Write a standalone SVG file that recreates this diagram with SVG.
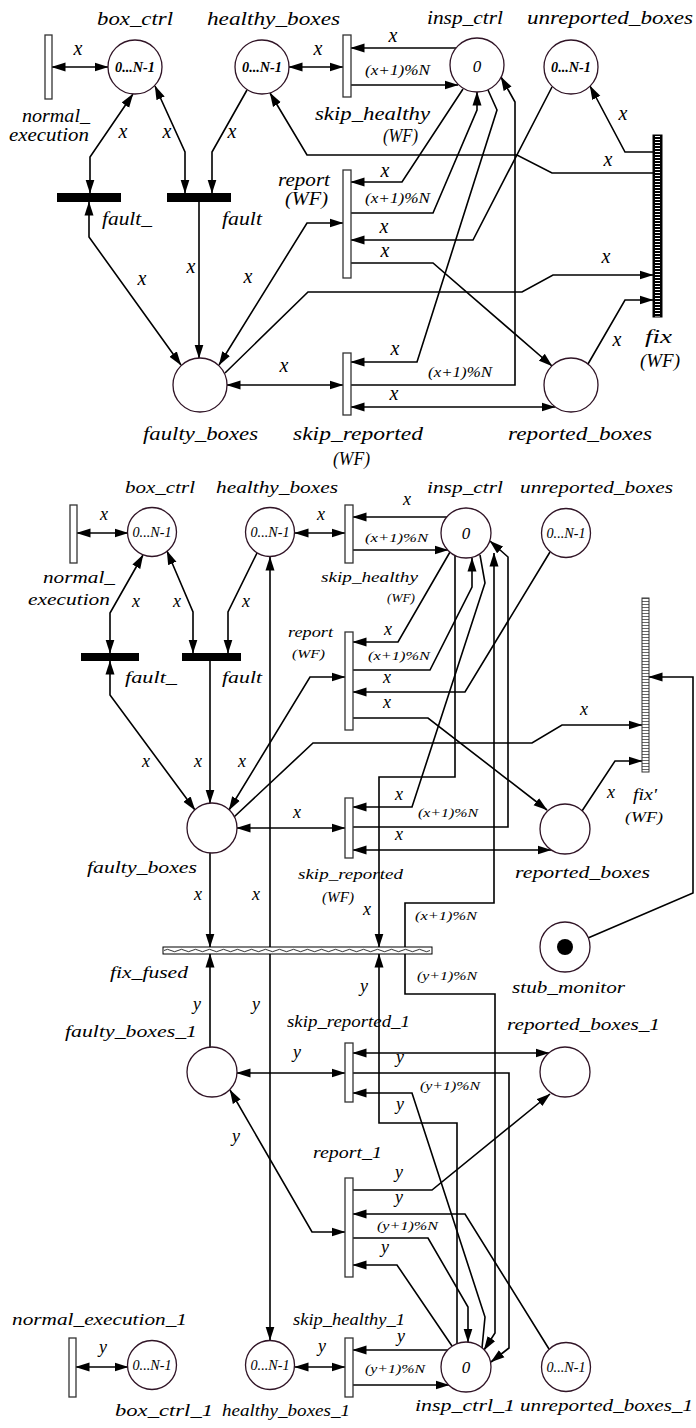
<svg xmlns="http://www.w3.org/2000/svg" width="696" height="1428" viewBox="0 0 696 1428">
<defs>
<marker id="ah" viewBox="0 0 14 10" refX="13.5" refY="5" markerWidth="14" markerHeight="10" markerUnits="userSpaceOnUse" orient="auto-start-reverse"><path d="M0,0.5 L14,5 L0,9.5 Z" fill="#000"/></marker>
<pattern id="hatchA" patternUnits="userSpaceOnUse" x="653" y="135" width="9" height="3"><rect width="9" height="3" fill="#000"/><path d="M2,1.5 h5" stroke="#fff" stroke-width="1"/></pattern>
<pattern id="hatchB" patternUnits="userSpaceOnUse" x="642" y="598" width="7" height="3"><rect width="7" height="3" fill="#fff"/><path d="M0,0.5 h7" stroke="#555" stroke-width="0.9"/></pattern>
<style>
.arc{fill:none;stroke:#000;stroke-width:1.6}
.e{marker-end:url(#ah)}
.b{marker-start:url(#ah);marker-end:url(#ah)}
.pl{fill:#fff;stroke:#301426;stroke-width:1.3}
.tr{fill:#fff;stroke:#333;stroke-width:1.3}
.bar{fill:#000}
.t{font-family:"Liberation Serif",serif;font-style:italic;fill:#000}
.L{font-size:18px}
.M{font-size:17px}
.S{font-size:15px}
.XS{font-size:13px}
.ax{font-size:20px;text-anchor:middle}
.ay{font-size:18px;text-anchor:middle}
.tk{font-size:14px;text-anchor:middle}
.tkb{font-size:14px;text-anchor:middle;font-weight:bold}
.z{font-size:17px;text-anchor:middle}
</style>
</defs>

<g id="connectors">
<!-- top diagram -->
<path class="arc b" d="M52,67 L108,67"/>
<path class="arc b" d="M289,67 L343,67"/>
<path class="arc e" d="M456,48 L351,48"/>
<path class="arc e" d="M351,85 L458,85"/>
<path class="arc b" d="M90,193 L90,157 L133,94"/>
<path class="arc b" d="M155,86 L185,152 L185,193"/>
<path class="arc e" d="M247,90 L212,152 L212,193"/>
<path class="arc b" d="M89,202 L89,237 L181,365"/>
<path class="arc e" d="M199,202 L199,358"/>
<path class="arc b" d="M219,365 L307,223 L343,223"/>
<path class="arc e" d="M225,373 L308,292 L522,292 L553,275 L653,275"/>
<path class="arc e" d="M653,152 L625,152 L590,86"/>
<path class="arc e" d="M653,173 L552,173 L517,155 L307,155 L270,93"/>
<path class="arc e" d="M463,89 L402,182 L351,182"/>
<path class="arc e" d="M351,213 L433,213 L477,110 L477,92"/>
<path class="arc e" d="M552,87 L473,240 L351,240"/>
<path class="arc e" d="M351,263 L433,263 L552,366"/>
<path class="arc e" d="M588,364 L625,300 L653,300"/>
<path class="arc e" d="M488,90 L497,110 L417,362 L351,362"/>
<path class="arc e" d="M351,385 L515,385 L515,102 L501,77"/>
<path class="arc b" d="M227,385 L343,385"/>
<path class="arc b" d="M351,407 L555,407"/>
<g class="t">
<text class="ax" x="78" y="55">x</text>
<text class="ax" x="318" y="55">x</text>
<text class="ax" x="393" y="42">x</text>
<text class="ax" x="123" y="138">x</text>
<text class="ax" x="167" y="138">x</text>
<text class="ax" x="232" y="138">x</text>
<text class="ax" x="142" y="285">x</text>
<text class="ax" x="191" y="273">x</text>
<text class="ax" x="248" y="283">x</text>
<text class="ax" x="606" y="263">x</text>
<text class="ax" x="623" y="120">x</text>
<text class="ax" x="608" y="166">x</text>
<text class="ax" x="385" y="177">x</text>
<text class="ax" x="384" y="233">x</text>
<text class="ax" x="385" y="257">x</text>
<text class="ax" x="617" y="346">x</text>
<text class="ax" x="395" y="355">x</text>
<text class="ax" x="284" y="372">x</text>
<text class="ax" x="394" y="400">x</text>
<text class="S" x="365" y="75" textLength="65" lengthAdjust="spacingAndGlyphs">(x+1)%N</text>
<text class="S" x="365" y="203" textLength="65" lengthAdjust="spacingAndGlyphs">(x+1)%N</text>
<text class="S" x="428" y="377" textLength="64" lengthAdjust="spacingAndGlyphs">(x+1)%N</text>
</g>

<!-- bottom diagram -->
<path class="arc b" d="M77,533 L128,533"/>
<path class="arc b" d="M295,533 L345,533"/>
<path class="arc e" d="M447,517 L353,517"/>
<path class="arc e" d="M353,550 L448,550"/>
<path class="arc b" d="M110,653 L110,613 L143,555"/>
<path class="arc b" d="M167,551 L193,612 L193,653"/>
<path class="arc e" d="M257,553 L228,612 L228,653"/>
<path class="arc b" d="M110,661 L110,695 L195,810"/>
<path class="arc e" d="M210,661 L210,803"/>
<path class="arc b" d="M229,810 L310,677 L345,677"/>
<path class="arc e" d="M234,817 L313,743 L532,743 L562,725 L642,725"/>
<path class="arc b" d="M237,828 L345,828"/>
<path class="arc e" d="M210,853 L210,947"/>
<path class="arc e" d="M270,947 L270,557"/>
<path class="arc e" d="M270,954 L270,1340"/>
<path class="arc e" d="M450,552 L398,642 L353,642"/>
<path class="arc e" d="M353,670 L430,670 L472,587 L472,558"/>
<path class="arc e" d="M550,552 L465,692 L353,692"/>
<path class="arc e" d="M455,555 L455,777 L379,777 L379,947"/>
<path class="arc e" d="M405,947 L405,903 L494,903 L494,553"/>
<path class="arc e" d="M353,827 L508,827 L508,557 L490,541"/>
<path class="arc e" d="M480,555 L485,583 L412,807 L353,807"/>
<path class="arc b" d="M353,850 L551,850"/>
<path class="arc e" d="M353,718 L428,718 L547,810"/>
<path class="arc e" d="M582,811 L615,761 L642,761"/>
<path class="arc e" d="M588,938 L693,893 L693,677 L649,677"/>
<path class="arc e" d="M210,1047 L210,954"/>
<path class="arc b" d="M237,1073 L345,1073"/>
<path class="arc b" d="M230,1090 L312,1232 L345,1232"/>
<path class="arc b" d="M353,1053 L549,1053"/>
<path class="arc e" d="M353,1073 L509,1073 L509,1348 L491,1362"/>
<path class="arc e" d="M482,1348 L485,1317 L412,1093 L353,1093"/>
<path class="arc e" d="M457,1344 L457,1123 L379,1123 L379,954"/>
<path class="arc e" d="M405,954 L405,994 L495,994 L495,1333 L484,1350"/>
<path class="arc e" d="M353,1190 L432,1190 L550,1094"/>
<path class="arc e" d="M549,1349 L465,1214 L353,1214"/>
<path class="arc e" d="M353,1238 L428,1238 L468,1307 L468,1342"/>
<path class="arc e" d="M452,1346 L397,1265 L353,1265"/>
<path class="arc e" d="M448,1350 L353,1350"/>
<path class="arc e" d="M353,1385 L449,1385"/>
<path class="arc b" d="M295,1367 L345,1367"/>
<path class="arc b" d="M76,1367 L128,1367"/>
<g class="t">
<text class="ay" x="104" y="520">x</text>
<text class="ay" x="321" y="520">x</text>
<text class="ay" x="407" y="505">x</text>
<text class="ay" x="136" y="607">x</text>
<text class="ay" x="177" y="607">x</text>
<text class="ay" x="246" y="607">x</text>
<text class="ay" x="146" y="767">x</text>
<text class="ay" x="198" y="767">x</text>
<text class="ay" x="242" y="767">x</text>
<text class="ay" x="584" y="715">x</text>
<text class="ay" x="297" y="818">x</text>
<text class="ay" x="198" y="900">x</text>
<text class="ay" x="256" y="900">x</text>
<text class="ay" x="388" y="635">x</text>
<text class="ay" x="387" y="683">x</text>
<text class="ay" x="367" y="915">x</text>
<text class="ay" x="399" y="800">x</text>
<text class="ay" x="399" y="840">x</text>
<text class="ay" x="387" y="708">x</text>
<text class="ay" x="611" y="798">x</text>
<text class="ay" x="256" y="1010">y</text>
<text class="ay" x="197" y="1010">y</text>
<text class="ay" x="297" y="1058">y</text>
<text class="ay" x="236" y="1142">y</text>
<text class="ay" x="400" y="1063">y</text>
<text class="ay" x="400" y="1110">y</text>
<text class="ay" x="364" y="992">y</text>
<text class="ay" x="399" y="1178">y</text>
<text class="ay" x="399" y="1203">y</text>
<text class="ay" x="385" y="1253">y</text>
<text class="ay" x="401" y="1342">y</text>
<text class="ay" x="322" y="1352">y</text>
<text class="ay" x="103" y="1353">y</text>
<text class="XS" x="365" y="542" textLength="63" lengthAdjust="spacingAndGlyphs">(x+1)%N</text>
<text class="XS" x="368" y="660" textLength="62" lengthAdjust="spacingAndGlyphs">(x+1)%N</text>
<text class="XS" x="418" y="817" textLength="60" lengthAdjust="spacingAndGlyphs">(x+1)%N</text>
<text class="XS" x="415" y="920" textLength="62" lengthAdjust="spacingAndGlyphs">(x+1)%N</text>
<text class="XS" x="417" y="980" textLength="60" lengthAdjust="spacingAndGlyphs">(y+1)%N</text>
<text class="XS" x="420" y="1090" textLength="60" lengthAdjust="spacingAndGlyphs">(y+1)%N</text>
<text class="XS" x="377" y="1230" textLength="61" lengthAdjust="spacingAndGlyphs">(y+1)%N</text>
<text class="XS" x="365" y="1373" textLength="60" lengthAdjust="spacingAndGlyphs">(y+1)%N</text>
</g>
</g>

<!-- ===== top diagram nodes ===== -->
<g id="normal_execution"><rect class="tr" x="45" y="35" width="7" height="64"/>
<text class="t L" x="22" y="122" textLength="68" lengthAdjust="spacingAndGlyphs">normal_</text>
<text class="t L" x="9" y="141" textLength="80" lengthAdjust="spacingAndGlyphs">execution</text></g>
<g id="box_ctrl"><circle class="pl" cx="135" cy="67" r="27"/>
<text class="t tkb" x="135" y="72" textLength="40" lengthAdjust="spacingAndGlyphs">0...N-1</text>
<text class="t L" x="97" y="25" textLength="76" lengthAdjust="spacingAndGlyphs">box_ctrl</text></g>
<g id="healthy_boxes"><circle class="pl" cx="262" cy="67" r="27"/>
<text class="t tkb" x="262" y="72" textLength="40" lengthAdjust="spacingAndGlyphs">0...N-1</text>
<text class="t L" x="207" y="25" textLength="133" lengthAdjust="spacingAndGlyphs">healthy_boxes</text></g>
<g id="skip_healthy"><rect class="tr" x="343" y="35" width="8" height="62"/>
<text class="t L" x="315" y="120" textLength="115" lengthAdjust="spacingAndGlyphs">skip_healthy</text>
<text class="t L" x="383" y="142" textLength="35" lengthAdjust="spacingAndGlyphs">(WF)</text></g>
<g id="insp_ctrl"><circle class="pl" cx="477" cy="65" r="27"/>
<text class="t z" x="477" y="72">0</text>
<text class="t L" x="427" y="24" textLength="76" lengthAdjust="spacingAndGlyphs">insp_ctrl</text></g>
<g id="unreported_boxes"><circle class="pl" cx="571" cy="67" r="27"/>
<text class="t tkb" x="571" y="72" textLength="40" lengthAdjust="spacingAndGlyphs">0...N-1</text>
<text class="t L" x="527" y="24" textLength="166" lengthAdjust="spacingAndGlyphs">unreported_boxes</text></g>
<g id="report"><rect class="tr" x="343" y="170" width="8" height="108"/>
<text class="t L" x="278" y="186" textLength="52" lengthAdjust="spacingAndGlyphs">report</text>
<text class="t L" x="285" y="205" textLength="43" lengthAdjust="spacingAndGlyphs">(WF)</text></g>
<g id="fault_"><rect class="bar" x="57" y="193" width="64" height="9"/>
<text class="t L" x="102" y="225" textLength="50" lengthAdjust="spacingAndGlyphs">fault_</text></g>
<g id="fault"><rect class="bar" x="167" y="193" width="64" height="9"/>
<text class="t L" x="222" y="225" textLength="40" lengthAdjust="spacingAndGlyphs">fault</text></g>
<g id="fix"><rect x="653" y="135" width="9" height="182" fill="url(#hatchA)" stroke="#000" stroke-width="1"/>
<text class="t L" x="645" y="343" textLength="27" lengthAdjust="spacingAndGlyphs">fix</text>
<text class="t L" x="640" y="367" textLength="40" lengthAdjust="spacingAndGlyphs">(WF)</text></g>
<g id="faulty_boxes"><circle class="pl" cx="200" cy="385" r="27"/>
<text class="t L" x="143" y="440" textLength="115" lengthAdjust="spacingAndGlyphs">faulty_boxes</text></g>
<g id="skip_reported"><rect class="tr" x="343" y="353" width="8" height="62"/>
<text class="t L" x="293" y="440" textLength="130" lengthAdjust="spacingAndGlyphs">skip_reported</text>
<text class="t L" x="333" y="465" textLength="37" lengthAdjust="spacingAndGlyphs">(WF)</text></g>
<g id="reported_boxes"><circle class="pl" cx="571" cy="385" r="27"/>
<text class="t L" x="508" y="440" textLength="144" lengthAdjust="spacingAndGlyphs">reported_boxes</text></g>

<!-- ===== bottom diagram nodes ===== -->
<g id="normal_execution_b"><rect class="tr" x="70" y="505" width="7" height="58"/>
<text class="t M" x="43" y="583" textLength="72" lengthAdjust="spacingAndGlyphs">normal_</text>
<text class="t M" x="28" y="605" textLength="82" lengthAdjust="spacingAndGlyphs">execution</text></g>
<g id="box_ctrl_b"><circle class="pl" cx="152" cy="532" r="24.5"/>
<text class="t tk" x="152" y="537" textLength="39" lengthAdjust="spacingAndGlyphs">0...N-1</text>
<text class="t M" x="125" y="493" textLength="70" lengthAdjust="spacingAndGlyphs">box_ctrl</text></g>
<g id="healthy_boxes_b"><circle class="pl" cx="270" cy="532" r="24.5"/>
<text class="t tk" x="270" y="537" textLength="39" lengthAdjust="spacingAndGlyphs">0...N-1</text>
<text class="t M" x="216" y="493" textLength="122" lengthAdjust="spacingAndGlyphs">healthy_boxes</text></g>
<g id="skip_healthy_b"><rect class="tr" x="345" y="505" width="8" height="58"/>
<text class="t S" x="321" y="582" textLength="97" lengthAdjust="spacingAndGlyphs">skip_healthy</text>
<text class="t XS" x="387" y="602" textLength="28" lengthAdjust="spacingAndGlyphs">(WF)</text></g>
<g id="insp_ctrl_b"><circle class="pl" cx="466" cy="533" r="25"/>
<text class="t z" x="466" y="539">0</text>
<text class="t M" x="427" y="493" textLength="76" lengthAdjust="spacingAndGlyphs">insp_ctrl</text></g>
<g id="unreported_boxes_b"><circle class="pl" cx="566" cy="533" r="24.5"/>
<text class="t tk" x="566" y="538" textLength="39" lengthAdjust="spacingAndGlyphs">0...N-1</text>
<text class="t M" x="520" y="493" textLength="153" lengthAdjust="spacingAndGlyphs">unreported_boxes</text></g>
<g id="report_b"><rect class="tr" x="345" y="632" width="8" height="98"/>
<text class="t S" x="288" y="637" textLength="45" lengthAdjust="spacingAndGlyphs">report</text>
<text class="t XS" x="292" y="658" textLength="33" lengthAdjust="spacingAndGlyphs">(WF)</text></g>
<g id="fault__b"><rect class="bar" x="81" y="653" width="58" height="8"/>
<text class="t M" x="125" y="683" textLength="52" lengthAdjust="spacingAndGlyphs">fault_</text></g>
<g id="fault_b"><rect class="bar" x="182" y="653" width="59" height="8"/>
<text class="t M" x="222" y="683" textLength="40" lengthAdjust="spacingAndGlyphs">fault</text></g>
<g id="fix_prime"><rect x="642" y="598" width="7" height="174" fill="url(#hatchB)" stroke="#333" stroke-width="1"/>
<text class="t M" x="633" y="800" textLength="24" lengthAdjust="spacingAndGlyphs">fix'</text>
<text class="t S" x="625" y="822" textLength="38" lengthAdjust="spacingAndGlyphs">(WF)</text></g>
<g id="faulty_boxes_b"><circle class="pl" cx="212" cy="828" r="25"/>
<text class="t M" x="87" y="873" textLength="110" lengthAdjust="spacingAndGlyphs">faulty_boxes</text></g>
<g id="skip_reported_b"><rect class="tr" x="345" y="798" width="8" height="60"/>
<text class="t S" x="298" y="879" textLength="105" lengthAdjust="spacingAndGlyphs">skip_reported</text>
<text class="t S" x="322" y="902" textLength="32" lengthAdjust="spacingAndGlyphs">(WF)</text></g>
<g id="reported_boxes_b"><circle class="pl" cx="565" cy="829" r="25"/>
<text class="t M" x="515" y="878" textLength="135" lengthAdjust="spacingAndGlyphs">reported_boxes</text></g>
<g id="stub_monitor"><circle class="pl" cx="565" cy="947" r="25"/><circle cx="565" cy="947" r="8" fill="#000"/>
<text class="t M" x="512" y="993" textLength="113" lengthAdjust="spacingAndGlyphs">stub_monitor</text></g>
<g id="fix_fused"><rect x="163" y="947" width="269" height="7" fill="#fff" stroke="#000" stroke-width="1"/>
<path d="M164,950.5 q3.5,-2.4 7,0 t7,0 t7,0 t7,0 t7,0 t7,0 t7,0 t7,0 t7,0 t7,0 t7,0 t7,0 t7,0 t7,0 t7,0 t7,0 t7,0 t7,0 t7,0 t7,0 t7,0 t7,0 t7,0 t7,0 t7,0 t7,0 t7,0 t7,0 t7,0 t7,0 t7,0 t7,0 t7,0 t7,0 t7,0 t7,0 t7,0 t7,0" fill="none" stroke="#000" stroke-width="0.8"/>
<text class="t M" x="110" y="978" textLength="78" lengthAdjust="spacingAndGlyphs">fix_fused</text></g>
<g id="faulty_boxes_1"><circle class="pl" cx="212" cy="1072" r="25"/>
<text class="t M" x="65" y="1037" textLength="132" lengthAdjust="spacingAndGlyphs">faulty_boxes_1</text></g>
<g id="skip_reported_1"><rect class="tr" x="345" y="1043" width="8" height="59"/>
<text class="t M" x="287" y="1027" textLength="123" lengthAdjust="spacingAndGlyphs">skip_reported_1</text></g>
<g id="reported_boxes_1"><circle class="pl" cx="565" cy="1072" r="25"/>
<text class="t M" x="507" y="1030" textLength="153" lengthAdjust="spacingAndGlyphs">reported_boxes_1</text></g>
<g id="report_1"><rect class="tr" x="345" y="1178" width="8" height="99"/>
<text class="t M" x="313" y="1158" textLength="69" lengthAdjust="spacingAndGlyphs">report_1</text></g>
<g id="normal_execution_1"><rect class="tr" x="69" y="1338" width="7" height="59"/>
<text class="t M" x="12" y="1325" textLength="175" lengthAdjust="spacingAndGlyphs">normal_execution_1</text></g>
<g id="box_ctrl_1"><circle class="pl" cx="152" cy="1365" r="24.5"/>
<text class="t tk" x="152" y="1370" textLength="39" lengthAdjust="spacingAndGlyphs">0...N-1</text>
<text class="t M" x="115" y="1416" textLength="98" lengthAdjust="spacingAndGlyphs">box_ctrl_1</text></g>
<g id="healthy_boxes_1"><circle class="pl" cx="270" cy="1365" r="24.5"/>
<text class="t tk" x="270" y="1370" textLength="39" lengthAdjust="spacingAndGlyphs">0...N-1</text>
<text class="t M" x="222" y="1416" textLength="128" lengthAdjust="spacingAndGlyphs">healthy_boxes_1</text></g>
<g id="skip_healthy_1"><rect class="tr" x="345" y="1338" width="8" height="59"/>
<text class="t M" x="293" y="1325" textLength="112" lengthAdjust="spacingAndGlyphs">skip_healthy_1</text></g>
<g id="insp_ctrl_1"><circle class="pl" cx="466" cy="1367" r="25"/>
<text class="t z" x="466" y="1373">0</text>
<text class="t M" x="415" y="1411" textLength="100" lengthAdjust="spacingAndGlyphs">insp_ctrl_1</text></g>
<g id="unreported_boxes_1"><circle class="pl" cx="566" cy="1367" r="24.5"/>
<text class="t tk" x="566" y="1372" textLength="39" lengthAdjust="spacingAndGlyphs">0...N-1</text>
<text class="t M" x="520" y="1411" textLength="173" lengthAdjust="spacingAndGlyphs">unreported_boxes_1</text></g>
</svg>
